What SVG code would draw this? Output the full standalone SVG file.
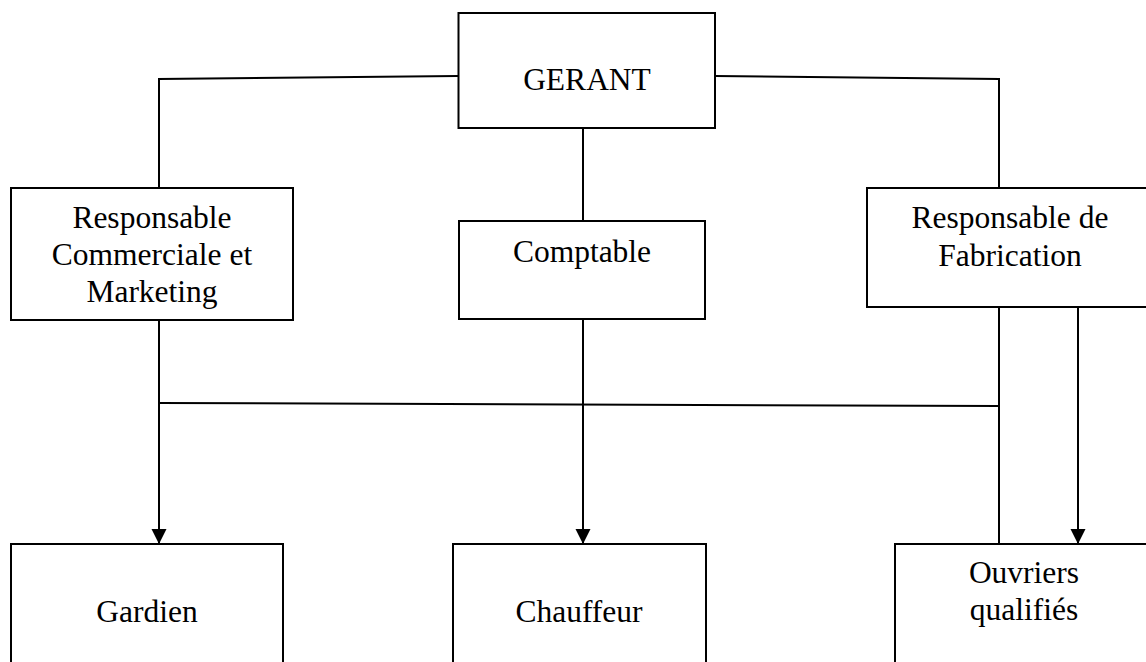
<svg xmlns="http://www.w3.org/2000/svg" width="1146" height="662" viewBox="0 0 1146 662">
<style>
.box{fill:#fff;stroke:#000;stroke-width:2}
.ln{fill:none;stroke:#000;stroke-width:2}
.t{font-family:"Liberation Serif","Times New Roman",serif;font-size:31.5px;fill:#000;text-anchor:middle}
</style>
<defs>
<marker id="arr" markerUnits="userSpaceOnUse" markerWidth="16" markerHeight="16" refX="15" refY="7.5" orient="auto">
<path d="M0,0 L15,7.5 L0,15 Z" fill="#000"/>
</marker>
</defs>
<rect width="1146" height="662" fill="#fff"/>
<g id="connectors">
<polyline class="ln" points="458,76 159,79 159,188"/>
<polyline class="ln" points="715,76 999,79 999,188"/>
<line class="ln" x1="583" y1="128" x2="583" y2="221"/>
<line class="ln" x1="159" y1="320" x2="159" y2="544" marker-end="url(#arr)"/>
<line class="ln" x1="583" y1="319" x2="583" y2="544" marker-end="url(#arr)"/>
<line class="ln" x1="999" y1="307" x2="999" y2="544"/>
<line class="ln" x1="1078" y1="307" x2="1078" y2="544" marker-end="url(#arr)"/>
<line class="ln" x1="159" y1="403" x2="999" y2="406"/>
</g>
<g id="gerant">
<rect class="box" x="458.5" y="13" width="256.5" height="115"/>
<text class="t" x="587" y="90">GERANT</text>
</g>
<g id="commercial">
<rect class="box" x="11" y="188" width="282" height="132"/>
<text class="t" x="152" y="228">Responsable</text>
<text class="t" x="152" y="265">Commerciale et</text>
<text class="t" x="152" y="302">Marketing</text>
</g>
<g id="comptable">
<rect class="box" x="459" y="221" width="246" height="98"/>
<text class="t" x="582" y="262">Comptable</text>
</g>
<g id="fabrication">
<rect class="box" x="867" y="188" width="290" height="119"/>
<text class="t" x="1010" y="228">Responsable de</text>
<text class="t" x="1010" y="266">Fabrication</text>
</g>
<g id="gardien">
<rect class="box" x="11" y="544" width="272" height="140"/>
<text class="t" x="147" y="622">Gardien</text>
</g>
<g id="chauffeur">
<rect class="box" x="453" y="544" width="253" height="140"/>
<text class="t" x="579" y="622">Chauffeur</text>
</g>
<g id="ouvriers">
<rect class="box" x="895" y="544" width="265" height="140"/>
<text class="t" x="1024" y="583">Ouvriers</text>
<text class="t" x="1024" y="620">qualifiés</text>
</g>
</svg>
